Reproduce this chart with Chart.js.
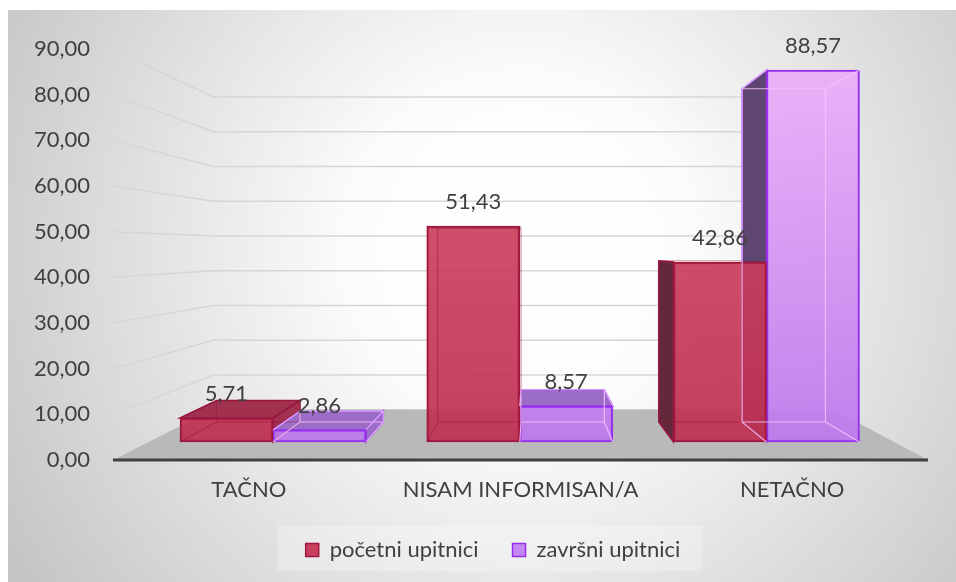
<!DOCTYPE html>
<html>
<head>
<meta charset="utf-8">
<script src="https://cdn.jsdelivr.net/npm/chart.js@4.4.1/dist/chart.umd.min.js"></script>
<style>
html,body{margin:0;padding:0;background:#ffffff;}
#wrap{width:956px;height:582px;position:relative;overflow:hidden;}
canvas{display:block;}
</style>
</head>
<body>
<div id="wrap"><canvas id="c" width="956" height="582"></canvas></div>
<script>
// ---------- data ----------
const categories = ['TAČNO', 'NISAM INFORMISAN/A', 'NETAČNO'];
const seriesNames = ['početni upitnici', 'završni upitnici'];
const pocetniUpitnici = [5.71, 51.43, 42.86];
const zavrsniUpitnici = [2.86, 8.57, 88.57];
const yTickValues = [0, 10, 20, 30, 40, 50, 60, 70, 80, 90];

// ---------- style ----------
const FONT = 'Lato';
const FSIZE = 22;
const TEXT = '#404040';
const fmt = v => Number(v).toFixed(2).replace('.', ',');

// perspective parameters (relative to chart area)
const PERSP = { vx: 0.514, vy: 0.489, floor: 0.761, bar: 0.896 };
const FACE = [
  { side: '#64283b', top: '#a2304f', line: '#98183f', inner: 'rgba(150,20,55,0.45)' },
  { side: '#5e4572', top: '#9b6dc6', line: '#9630ee', inner: 'rgba(246,196,255,0.85)' }
];

function vgrad(top, bottom) {
  return (c) => {
    const ch = c.chart, a = ch.chartArea;
    if (!a) return bottom;
    const g = ch.ctx.createLinearGradient(0, a.top, 0, a.bottom);
    g.addColorStop(0, top);
    g.addColorStop(1, bottom);
    return g;
  };
}

function vanish(chart) {
  const a = chart.chartArea;
  return { x: a.left + PERSP.vx * (a.right - a.left), y: a.top + PERSP.vy * (a.bottom - a.top) };
}
function proj(V, s, x, y) { return [V.x + s * (x - V.x), V.y + s * (y - V.y)]; }

function barBox(el, V) {
  const p = el.getProps(['x', 'y', 'base', 'width'], true);
  const L = p.x - p.width / 2, R = p.x + p.width / 2, T = Math.min(p.y, p.base), B = Math.max(p.y, p.base);
  const s = PERSP.bar;
  const [Lb, Tb] = proj(V, s, L, T);
  const [Rb, Bb] = proj(V, s, R, B);
  return { L, R, T, B, Lb, Rb, Tb, Bb };
}

function poly(ctx, pts, fill, stroke) {
  ctx.beginPath();
  ctx.moveTo(pts[0][0], pts[0][1]);
  for (let i = 1; i < pts.length; i++) ctx.lineTo(pts[i][0], pts[i][1]);
  ctx.closePath();
  ctx.fillStyle = fill; ctx.fill();
  if (stroke) { ctx.strokeStyle = stroke; ctx.lineWidth = 1.5; ctx.stroke(); }
}

const scene = {
  id: 'scene',
  beforeDraw(chart) {
    const ctx = chart.ctx, W = chart.width, H = chart.height;
    ctx.save();
    ctx.fillStyle = '#ffffff';
    ctx.fillRect(0, 0, W, H);
    const g = ctx.createRadialGradient(520, 250, 0, 520, 250, 600);
    g.addColorStop(0, '#ffffff');
    g.addColorStop(0.28, '#fcfcfc');
    g.addColorStop(0.58, '#e5e5e5');
    g.addColorStop(1, '#c4c4c4');
    ctx.fillStyle = g;
    ctx.fillRect(8, 10, W - 8, H - 10);
    // legend backdrop
    const lg = chart.legend;
    if (lg && lg.legendHitBoxes && lg.legendHitBoxes.length) {
      const hb = lg.legendHitBoxes;
      const x0 = hb[0].left - 28, x1 = hb[hb.length - 1].left + hb[hb.length - 1].width + 22;
      const cy = hb[0].top + hb[0].height / 2;
      ctx.fillStyle = 'rgba(255,255,255,0.25)';
      ctx.fillRect(x0, cy - 24, x1 - x0, 45);
    }
    ctx.restore();
  },
  beforeDatasetsDraw(chart) {
    const ctx = chart.ctx, a = chart.chartArea, ys = chart.scales.y;
    const V = vanish(chart), sF = PERSP.floor;
    ctx.save();
    const bl = proj(V, sF, a.left, 0)[0], br = proj(V, sF, a.right, 0)[0];
    // back wall grid lines with side-wall diagonals
    ctx.strokeStyle = '#d6d6d6';
    ctx.lineWidth = 1.5;
    yTickValues.forEach(v => {
      const yf = ys.getPixelForValue(v);
      const yb = V.y + sF * (yf - V.y);
      ctx.beginPath();
      ctx.moveTo(a.left, yf);
      ctx.lineTo(bl, yb);
      ctx.lineTo(br, yb);
      ctx.stroke();
    });
    // floor
    const yf0 = ys.getPixelForValue(0), yb0 = V.y + sF * (yf0 - V.y);
    poly(ctx, [[a.left, yf0], [bl, yb0], [br, yb0], [a.right, yf0]], '#b9b9b9', null);
    // axis line
    ctx.strokeStyle = '#404040';
    ctx.lineWidth = 3;
    ctx.beginPath();
    ctx.moveTo(a.left, yf0);
    ctx.lineTo(a.right, yf0);
    ctx.stroke();
    // bar side & top faces
    chart.data.datasets.forEach((ds, di) => {
      const f = FACE[di];
      chart.getDatasetMeta(di).data.forEach(el => {
        const b = barBox(el, V);
        if (b.L > V.x && b.L - b.Lb > 3) {
          poly(ctx, [[b.L, b.T], [b.Lb, b.Tb], [b.Lb, b.Bb], [b.L, b.B]], f.side, f.line);
        } else if (b.R < V.x && b.Rb - b.R > 3) {
          poly(ctx, [[b.R, b.T], [b.Rb, b.Tb], [b.Rb, b.Bb], [b.R, b.B]], f.top, f.line);
        }
        if (b.T > V.y && b.T - b.Tb > 3) {
          poly(ctx, [[b.L, b.T], [b.R, b.T], [b.Rb, b.Tb], [b.Lb, b.Tb]], f.top, f.line);
        }
      });
    });
    ctx.restore();
  },
  afterDatasetsDraw(chart) {
    const ctx = chart.ctx;
    const V = vanish(chart);
    ctx.save();
    chart.data.datasets.forEach((ds, di) => {
      const f = FACE[di];
      chart.getDatasetMeta(di).data.forEach(el => {
        const b = barBox(el, V);
        ctx.strokeStyle = f.inner;
        ctx.lineWidth = 1.2;
        ctx.beginPath();
        ctx.rect(b.Lb, b.Tb, b.Rb - b.Lb, b.Bb - b.Tb);
        ctx.moveTo(b.L, b.T); ctx.lineTo(b.Lb, b.Tb);
        ctx.moveTo(b.R, b.T); ctx.lineTo(b.Rb, b.Tb);
        ctx.moveTo(b.L, b.B); ctx.lineTo(b.Lb, b.Bb);
        ctx.moveTo(b.R, b.B); ctx.lineTo(b.Rb, b.Bb);
        ctx.stroke();
      });
    });
    // data labels
    ctx.fillStyle = TEXT;
    ctx.font = FSIZE + 'px ' + FONT;
    ctx.textAlign = 'center';
    ctx.textBaseline = 'middle';
    chart.data.datasets.forEach((ds, di) => {
      chart.getDatasetMeta(di).data.forEach((el, i) => {
        const p = el.getProps(['x', 'y'], true);
        ctx.fillText(fmt(ds.data[i].y), p.x, p.y - 24);
      });
    });
    ctx.restore();
  }
};

const legendColors = [
  { fill: '#c8405e', stroke: '#a0183f' },
  { fill: '#c488f2', stroke: '#9630ee' }
];

function build() {
  const ctx = document.getElementById('c').getContext('2d');
  new Chart(ctx, {
    type: 'bar',
    data: {
      labels: categories,
      datasets: [
        {
          label: seriesNames[0],
          data: pocetniUpitnici.map((v, i) => ({ x: i, y: v })),
          xAxisID: 'xb', yAxisID: 'yb',
          backgroundColor: vgrad('rgba(214,78,106,0.92)', 'rgba(190,46,80,0.92)'),
          borderColor: '#a0183f',
          borderWidth: 2,
          borderSkipped: false,
          barThickness: 93
        },
        {
          label: seriesNames[1],
          data: zavrsniUpitnici.map((v, i) => ({ x: i, y: v })),
          xAxisID: 'xb', yAxisID: 'yb',
          backgroundColor: vgrad('rgba(238,176,250,0.92)', 'rgba(186,118,236,0.92)'),
          borderColor: '#9630ee',
          borderWidth: 2,
          borderSkipped: false,
          barThickness: 93
        }
      ]
    },
    options: {
      responsive: false,
      animation: false,
      devicePixelRatio: 1,
      layout: { padding: { left: 30, right: 0, top: 49, bottom: 11 } },
      plugins: {
        tooltip: { enabled: false },
        legend: {
          position: 'bottom',
          labels: {
            color: TEXT,
            font: { family: FONT, size: FSIZE },
            boxWidth: 13,
            boxHeight: 13,
            padding: 34,
            generateLabels: () => seriesNames.map((n, i) => ({
              text: n,
              fillStyle: legendColors[i].fill,
              strokeStyle: legendColors[i].stroke,
              lineWidth: 1.5,
              fontColor: TEXT,
              hidden: false,
              datasetIndex: i
            }))
          }
        }
      },
      scales: {
        x: {
          type: 'category',
          offset: true,
          grid: { display: false, drawTicks: false },
          border: { display: false },
          ticks: { color: TEXT, font: { family: FONT, size: FSIZE }, padding: 17, maxRotation: 0, autoSkip: false },
          afterFit(s) {
            const lh = s.chart.legend ? s.chart.legend.height : 67;
            s.height = s.chart.height - 460 - lh - 11;
          }
        },
        y: {
          type: 'linear',
          position: 'left',
          min: 0, max: 90,
          afterBuildTicks(s) { s.ticks = yTickValues.map(v => ({ value: v })); },
          grid: { display: false, drawTicks: false },
          border: { display: false },
          ticks: { color: TEXT, font: { family: FONT, size: FSIZE }, padding: 23, callback: v => fmt(v) },
          afterFit(s) { s.width = 83; }
        },
        yr: {
          type: 'linear',
          position: 'right',
          min: 0, max: 90,
          grid: { display: false, drawTicks: false },
          border: { display: false },
          ticks: { display: false },
          afterFit(s) { s.width = 28; }
        },
        xb: { type: 'linear', display: false, offset: false, grid: { offset: false }, min: -0.6484, max: 2.6545 },
        yb: { type: 'linear', display: false, min: -4.30, max: 93.58 }
      }
    },
    plugins: [scene]
  });
}

if (document.fonts && document.fonts.load) {
  Promise.all([document.fonts.load(FSIZE + 'px Lato')]).then(build, build);
} else {
  build();
}
</script>
</body>
</html>
